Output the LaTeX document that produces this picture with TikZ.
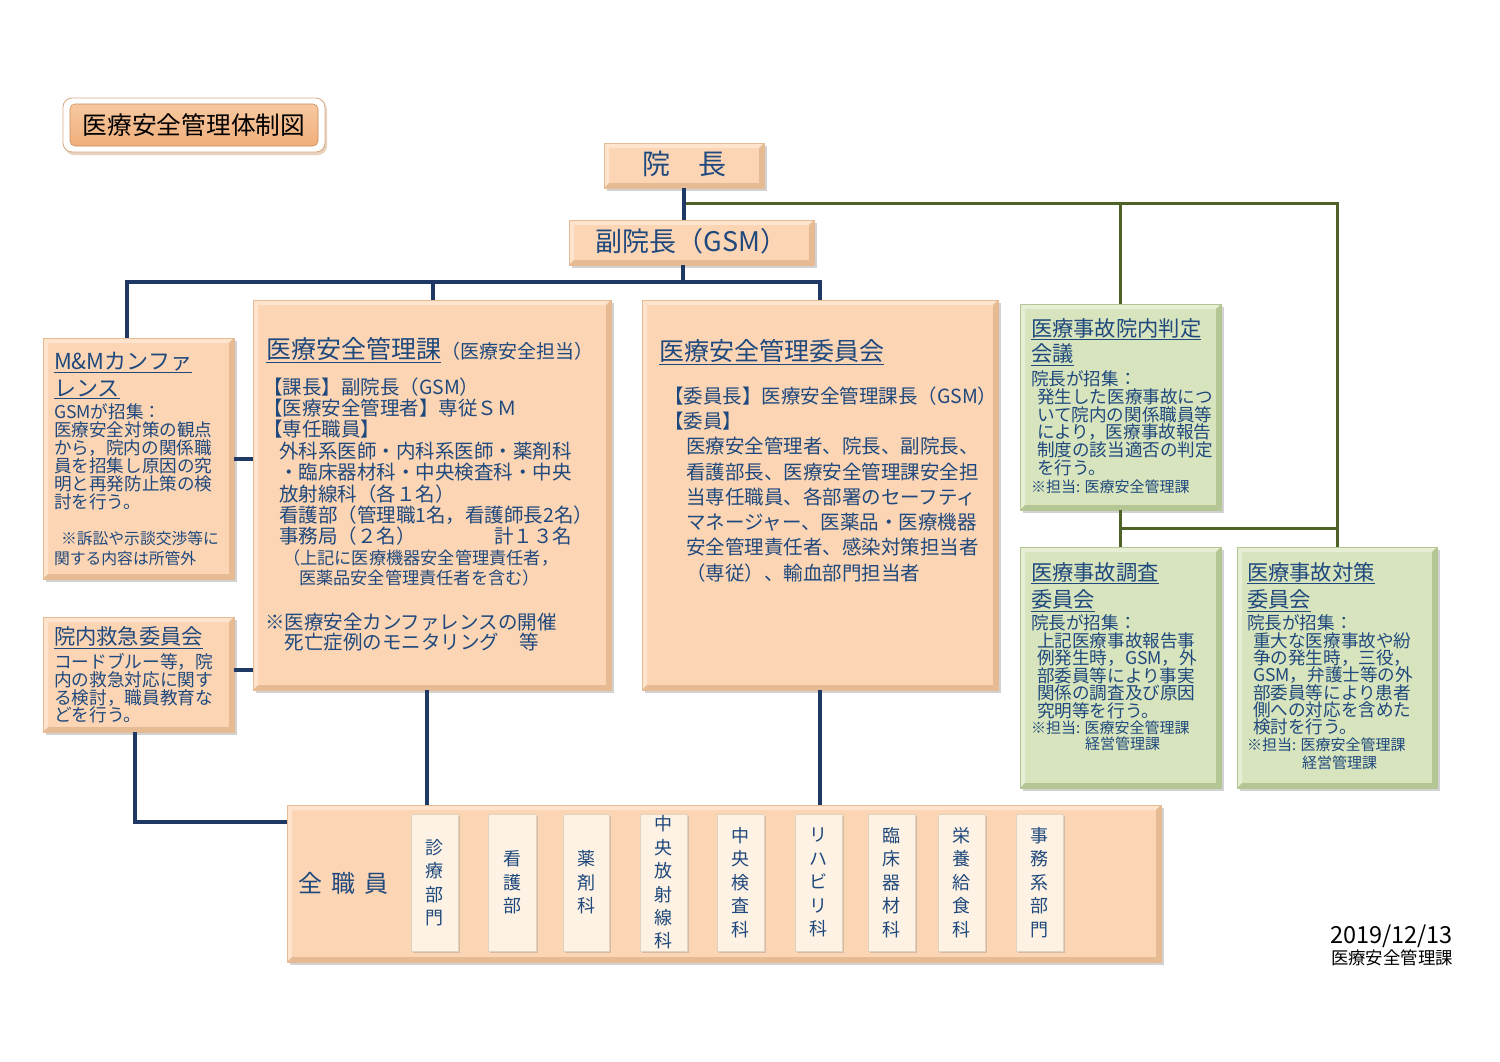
\documentclass[tikz,border=0pt]{standalone}
\usepackage{fontspec}
\setmainfont{Noto Sans CJK JP}
\usetikzlibrary{shadows,calc}
\definecolor{tblue}{HTML}{1F497D}
\definecolor{navy}{HTML}{1F3864}
\definecolor{oliveln}{HTML}{4F6228}
\definecolor{peach}{HTML}{FCD5B5}
\definecolor{peachL}{HTML}{FEE4CC}
\definecolor{peachD}{HTML}{E6BA93}
\definecolor{pgreen}{HTML}{D7E4BD}
\definecolor{pgreenL}{HTML}{E6EED6}
\definecolor{pgreenD}{HTML}{B5C695}
\definecolor{cream}{HTML}{FDF2E3}
\definecolor{creamD}{HTML}{E2D3BE}
\definecolor{titleor}{HTML}{F0AE7B}
\definecolor{titleL}{HTML}{F7C9A0}
\definecolor{titleD}{HTML}{C98C58}
\newcommand{\fs}[2]{\fontsize{#1pt}{#2pt}\selectfont\lineskiplimit=-20pt\relax}
\newcommand{\st}{\rule{0pt}{0.88em}}
\newcommand{\bbox}[6]{\node[bx, shad, fill=#6, minimum width={#4-#2}, minimum height={#5-#3}] (#1) at (#2,#3) {};}
\newcommand{\bev}[4]{%
 \fill[#2] (#1.north west) -- (#1.north east) -- ([shift={(-#4,#4)}]#1.north east) -- ([shift={(#4,#4)}]#1.north west) -- cycle;
 \fill[#2] (#1.north west) -- ([shift={(#4,#4)}]#1.north west) -- ([shift={(#4,-#4)}]#1.south west) -- (#1.south west) -- cycle;
 \fill[#3] (#1.south west) -- (#1.south east) -- ([shift={(-#4,-#4)}]#1.south east) -- ([shift={(#4,-#4)}]#1.south west) -- cycle;
 \fill[#3] (#1.north east) -- (#1.south east) -- ([shift={(-#4,-#4)}]#1.south east) -- ([shift={(-#4,#4)}]#1.north east) -- cycle;
 \draw[#3, line width=0.5pt] (#1.north west) rectangle (#1.south east);}
\newcommand{\dept}[4]{\node[bx, fill=cream, draw=creamD, line width=0.5pt, minimum width={#3-#2}, minimum height=137, drop shadow={shadow xshift=2pt, shadow yshift=-2pt, opacity=0.3}] (#1) at (#2,814) {};
 \node[vt] (#1t) at (#1.center) {#4};}
\begin{document}
\begin{tikzpicture}[x=1pt,y=-1pt,
 bx/.style={rectangle, inner sep=0, outer sep=0, anchor=north west},
 shad/.style={drop shadow={shadow xshift=2.5pt, shadow yshift=-3pt, opacity=0.35}},
 tx/.style={anchor=north west, inner sep=0, outer sep=0, align=left, text=tblue},
 vt/.style={inner sep=0, align=center, text=tblue, font=\fs{18}{23.4}},
 nline/.style={draw=navy, line width=4pt},
 gline/.style={draw=oliveln, line width=3pt}]
\useasboundingbox (0,0) rectangle (1500,1061);
\fill[white] (0,0) rectangle (1500,1061);

% title
\node[bx, rounded corners=9pt, fill=white, draw=titleD!70, line width=0.9pt,
  drop shadow={shadow xshift=2pt, shadow yshift=-3pt, opacity=0.4, fill=titleD},
  minimum width=262, minimum height=54] (ttlo) at (63,98) {};
\node[bx, rounded corners=5pt, top color=titleL, bottom color=titleor, draw=titleD, line width=0.6pt,
  minimum width=248, minimum height=42] (ttl) at (70,104) {};
\node[inner sep=0, font=\fs{24.7}{25}, text=black] (ttlt) at (ttl.center) {医療安全管理体制図};

% boxes
\bbox{incho}{604}{143}{764}{188}{peach}
\bbox{fuku}{569}{220}{814}{265}{peach}
\bbox{mm}{43}{338}{234}{579}{peach}
\bbox{ka}{253}{300}{611}{690}{peach}
\bbox{iin}{642}{300}{998}{690}{peach}
\bbox{kyu}{43}{617}{234}{732}{peach}
\bbox{han}{1020}{304}{1221}{510}{pgreen}
\bbox{chou}{1020}{547}{1221}{788}{pgreen}
\bbox{tai}{1237}{547}{1437}{788}{pgreen}
\bbox{zen}{287}{805}{1161}{962}{peach}
\bev{incho}{peachL}{peachD}{5}
\bev{fuku}{peachL}{peachD}{5}
\bev{mm}{peachL}{peachD}{5}
\bev{ka}{peachL}{peachD}{5}
\bev{iin}{peachL}{peachD}{5}
\bev{kyu}{peachL}{peachD}{5}
\bev{zen}{peachL}{peachD}{5}
\bev{han}{pgreenL}{pgreenD}{5}
\bev{chou}{pgreenL}{pgreenD}{5}
\bev{tai}{pgreenL}{pgreenD}{5}

% connectors
\coordinate (bar) at (683,282);
\coordinate (gj) at (683,203);
\coordinate (gk) at ($(han.south)!0.5!(chou.north)$);
\coordinate (zj) at ([yshift=-17pt]zen.north west);
\draw[gline] (gj) -| (tai.north);
\draw[gline] (han.north) -- (han.north |- gj);
\draw[gline] (han.south) -- (chou.north);
\draw[gline] (gk) -- (gk -| tai.north);
\draw[nline] (incho.south) -- (incho.south |- fuku.north);
\draw[nline] (fuku.south -| bar) -- (bar);
\draw[nline] ([xshift=84pt]mm.north west) |- (bar) -| ([xshift=178pt]iin.north west);
\draw[nline] ([xshift=180pt]ka.north west) -- ([xshift=180pt]ka.north west |- bar);
\draw[nline] (mm.east) -- (mm.east -| ka.west);
\draw[nline] ([yshift=5pt]kyu.east) -- ([yshift=5pt]kyu.east -| ka.west);
\draw[nline] ([xshift=92pt]kyu.south west) |- (zj);
\draw[nline] ([xshift=174pt]ka.south west) -- ([xshift=174pt]ka.south west |- zen.north);
\draw[nline] ([xshift=178pt]iin.south west) -- ([xshift=178pt]iin.south west |- zen.north);

% texts
\node[inner sep=0, text=tblue, font=\fs{28}{28}] (inchot) at ([yshift=2pt]incho.center) {院\hspace{28pt}長};
\node[inner sep=0, text=tblue, font=\fs{27}{28}] (fukut) at ([yshift=1pt]fuku.center) {副院長（GSM）};

\node[tx, font=\fs{22}{27}] (mmh) at (54,350) {\st\underline{M\&Mカンファ}\\\underline{レンス}};
\node[tx, font=\fs{17.6}{18}] (mmb) at (54,403) {\st GSMが招集：\\医療安全対策の観点\\から，院内の関係職\\員を招集し原因の究\\明と再発防止策の検\\討を行う。};
\node[tx, font=\fs{15.8}{20}] (mmn) at (54,531) {\st\hspace{7pt}※訴訟や示談交渉等に\\関する内容は所管外};

\node[tx, font=\fs{21.3}{26}] (kyuh) at (54,626) {\st\underline{院内救急委員会}};
\node[tx, font=\fs{17.7}{17.8}] (kyub) at (54,653) {\st コードブルー等，院\\内の救急対応に関す\\る検討，職員教育な\\どを行う。};

\node[tx] (kah) at (266,337.5) {\st{\fs{25}{30}\underline{医療安全管理課}}{\fs{19}{30}（医療安全担当）}};
\node[tx, font=\fs{19.5}{21.4}] (kab) at (263,377) {\st【課長】副院長（GSM）\\【医療安全管理者】専従ＳＭ\\【専任職員】\\\hspace{16pt}外科系医師・内科系医師・薬剤科\\\hspace{16pt}・臨床器材科・中央検査科・中央\\\hspace{16pt}放射線科（各１名）\\\hspace{16pt}看護部（管理職1名，看護師長2名）\\\hspace{16pt}\makebox[215pt][l]{事務局（２名）}計１３名};
\node[tx, font=\fs{17.2}{20.4}] (kap) at (283,549) {\st（上記に医療機器安全管理責任者，\\\hspace{16pt}医薬品安全管理責任者を含む）};
\node[tx, font=\fs{19.5}{20.5}] (kan) at (265,612) {\st ※医療安全カンファレンスの開催\\\hspace{19.5pt}死亡症例のモニタリング\hspace{21pt}等};

\node[tx, font=\fs{25}{30}] (iinh) at (659,338.5) {\st\underline{医療安全管理委員会}};
\node[tx, font=\fs{19.5}{25.3}] (iinb) at (664,386) {\st【委員長】医療安全管理課長（GSM）\\【委員】\\\hspace{22pt}医療安全管理者、院長、副院長、\\\hspace{22pt}看護部長、医療安全管理課安全担\\\hspace{22pt}当専任職員、各部署のセーフティ\\\hspace{22pt}マネージャー、医薬品・医療機器\\\hspace{22pt}安全管理責任者、感染対策担当者\\\hspace{22pt}（専従）、輸血部門担当者};

\node[tx, font=\fs{21.3}{25.5}] (hanh) at (1031,317.4) {\st\underline{医療事故院内判定}\\\underline{会議}};
\node[tx, font=\fs{17.6}{17.8}] (hanb) at (1031,370) {\st 院長が招集：\\\hspace{6pt}発生した医療事故につ\\\hspace{6pt}いて院内の関係職員等\\\hspace{6pt}により，医療事故報告\\\hspace{6pt}制度の該当適否の判定\\\hspace{6pt}を行う。};
\node[tx, font=\fs{15}{17}] (hann) at (1031,479.5) {\st ※担当: 医療安全管理課};

\node[tx, font=\fs{21.3}{27.5}] (chouh) at (1031,561.4) {\st\underline{医療事故調査}\\\underline{委員会}};
\node[tx, font=\fs{17.6}{17.5}] (choub) at (1031,614.2) {\st 院長が招集：\\\hspace{6pt}上記医療事故報告事\\\hspace{6pt}例発生時，GSM，外\\\hspace{6pt}部委員等により事実\\\hspace{6pt}関係の調査及び原因\\\hspace{6pt}究明等を行う。};
\node[tx, font=\fs{15}{16}] (choun) at (1031,720.5) {\st ※担当: 医療安全管理課\\\hspace{54pt}経営管理課};

\node[tx, font=\fs{21.3}{27.5}] (taih) at (1247,561.4) {\st\underline{医療事故対策}\\\underline{委員会}};
\node[tx, font=\fs{17.6}{17.35}] (taib) at (1247,614.2) {\st 院長が招集：\\\hspace{6pt}重大な医療事故や紛\\\hspace{6pt}争の発生時，三役，\\\hspace{6pt}GSM，弁護士等の外\\\hspace{6pt}部委員等により患者\\\hspace{6pt}側への対応を含めた\\\hspace{6pt}検討を行う。};
\node[tx, font=\fs{15}{18}] (tain) at (1247,737.5) {\st ※担当: 医療安全管理課\\\hspace{55pt}経営管理課};

% all staff
\node[inner sep=0, text=tblue, font=\fs{24}{24}] (zent) at (343,883) {全\hspace{9pt}職\hspace{9pt}員};
\dept{d1}{411}{458}{診\\療\\部\\門}
\dept{d2}{488}{536}{看\\護\\部}
\dept{d3}{563}{609}{薬\\剤\\科}
\dept{d4}{640}{687}{中\\央\\放\\射\\線\\科}
\dept{d5}{717}{764}{中\\央\\検\\査\\科}
\dept{d6}{795}{842}{リ\\ハ\\ビ\\リ\\科}
\dept{d7}{868}{915}{臨\\床\\器\\材\\科}
\dept{d8}{938}{985}{栄\\養\\給\\食\\科}
\dept{d9}{1016}{1063}{事\\務\\系\\部\\門}

% date
\node[inner sep=0, anchor=east, text=black, font=\fs{23.5}{24}] (date) at (1453,936) {2019/12/13};
\node[inner sep=0, anchor=east, text=black, font=\fs{17.4}{18}] (datedep) at (1453,958) {医療安全管理課};
\end{tikzpicture}
\end{document}
